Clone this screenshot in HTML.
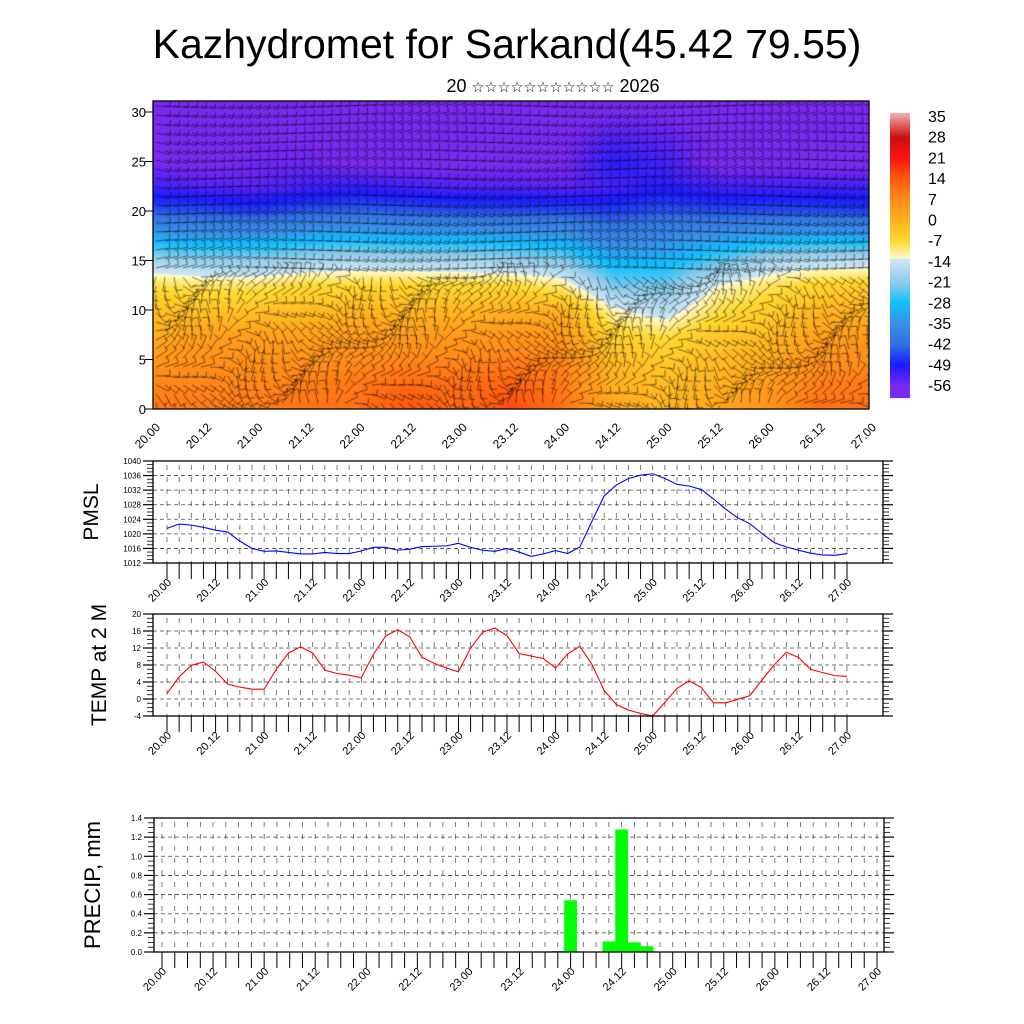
<!DOCTYPE html>
<html><head><meta charset="utf-8"><style>
html,body{margin:0;padding:0;background:#fff;width:1024px;height:1024px;overflow:hidden}
#heat{position:absolute;left:153px;top:101px}
svg{position:absolute;left:0;top:0}
text{font-family:"Liberation Sans",sans-serif;fill:#000}
</style></head><body>
<canvas id="heat" width="716" height="308"></canvas>
<svg id="s" width="1024" height="1024">
<text x="507" y="58" font-size="41" text-anchor="middle">Kazhydromet for Sarkand(45.42 79.55)</text>
<text x="553" y="92" font-size="18" text-anchor="middle">20 <tspan font-size="14.5">☆☆☆☆☆☆☆☆☆☆☆</tspan> 2026</text>
<text transform="translate(98,512) rotate(-90)" font-size="21" text-anchor="middle">PMSL</text>
<text transform="translate(106,665) rotate(-90)" font-size="21" text-anchor="middle">TEMP at 2 M</text>
<text transform="translate(100,885) rotate(-90)" font-size="22" text-anchor="middle">PRECIP, mm</text>
</svg>
<script>
// ---------- DATA ----------
const timeLabels=["20.00","20.12","21.00","21.12","22.00","22.12","23.00","23.12","24.00","24.12","25.00","25.12","26.00","26.12","27.00"];
const pmsl=[1021.5,1022.7,1022.4,1021.8,1021,1020.5,1018,1016,1015.2,1015.3,1014.9,1014.5,1014.5,1014.9,1014.6,1014.6,1015.3,1016.3,1016.3,1015.5,1015.8,1016.5,1016.6,1016.7,1017.4,1016.3,1015.5,1015.2,1016,1015,1013.8,1014.5,1015.4,1014.6,1016.4,1023.5,1030.4,1033.4,1035.2,1036.1,1036.5,1035.2,1033.6,1033.1,1032.2,1029.6,1026.8,1024.4,1022.8,1020.1,1017.6,1016.4,1015.5,1014.7,1014.2,1014.1,1014.6];
const temp2m=[1.3,5.2,7.9,8.7,6.5,3.5,2.8,2.3,2.3,7.0,10.8,12.3,10.8,6.8,6.0,5.6,5.0,10.5,14.8,16.3,14.6,9.8,8.4,7.3,6.4,12.0,15.7,16.7,14.9,10.7,10.1,9.5,7.3,10.6,12.4,8.1,2.0,-1.3,-2.6,-3.4,-4.0,-0.8,2.5,4.3,2.7,-0.9,-0.9,-0.1,0.8,4.5,8.0,11.0,9.8,7.0,6.2,5.5,5.3];
const precipIdx=[31,32,35,36,37,38];
const precipVal=[0.01,0.54,0.11,1.28,0.10,0.06];
const pmslTicks=[1012,1016,1020,1024,1028,1032,1036,1040];
const tempTicks=[-4,0,4,8,12,16,20];
const precipTicks=[0.0,0.2,0.4,0.6,0.8,1.0,1.2,1.4];
const heightTicks=[0,5,10,15,20,25,30];
const cbarLabels=[35,28,21,14,7,0,-7,-14,-21,-28,-35,-42,-49,-56];
// temperature cross-section: rows = heights 0..30 step 2.5, cols = every 12h
const gridZ=[0,2.5,5,7.5,10,12.5,15,17.5,20,22.5,25,27.5,30];
const gridT=[
[10,10,9,11,11,15,12,16,11,2,-1,2,6,11,11],
[8,8,8,9,10,12,11,13,10,0,-2,0,4,9,10],
[5,6,6,6,7,8,8,9,8,-2,-4,-2,1,6,7],
[1,3,3,3,4,4,4,5,5,-6,-8,-4,-2,3,4],
[-3,-3,-3,-2,-1,-1,-1,0,0,-12,-16,-8,-5,-1,0],
[-8,-9,-9,-7,-7,-6,-7,-7,-10,-22,-22,-13,-9,-6,-5],
[-18,-20,-20,-18,-17,-18,-18,-19,-21,-30,-30,-24,-18,-16,-16],
[-32,-33,-33,-31,-30,-31,-31,-32,-33,-38,-36,-34,-32,-31,-32],
[-44,-45,-46,-44,-43,-44,-45,-45,-45,-46,-44,-45,-45,-45,-46],
[-52,-53,-54,-52,-51,-52,-53,-53,-54,-52,-50,-52,-52,-52,-52],
[-56,-57,-55,-55,-57,-57,-57,-57,-56,-50,-52,-57,-57,-57,-57],
[-58,-57,-56,-56,-58,-58,-58,-57,-56,-53,-54,-56,-57,-58,-58],
[-58,-58,-58,-58,-58,-58,-58,-58,-58,-56,-56,-58,-58,-58,-58]];

// ---------- helpers ----------
const NS="http://www.w3.org/2000/svg";
const svg=document.getElementById('s');
function el(tag,attrs,parent){const e=document.createElementNS(NS,tag);for(const k in attrs)e.setAttribute(k,attrs[k]);(parent||svg).appendChild(e);return e;}
const cstops=[[36,[244,170,170]],[28,[200,16,16]],[21,[255,20,16]],[14,[255,90,16]],[7,[255,140,26]],[0,[255,176,32]],[-7,[255,216,48]],[-12.9,[255,250,204]],[-13,[208,232,244]],[-21,[140,203,232]],[-28,[16,192,255]],[-35,[58,142,232]],[-42,[48,112,224]],[-49,[26,26,255]],[-56,[122,42,240]],[-70,[122,42,240]]];
function cmap(v){if(v>=cstops[0][0])return cstops[0][1];for(let i=0;i<cstops.length-1;i++){const a=cstops[i],b=cstops[i+1];if(v<=a[0]&&v>=b[0]){const f=(a[0]-v)/(a[0]-b[0]);return a[1].map((c,j)=>Math.round(c+(b[1][j]-c)*f));}}return cstops[cstops.length-1][1];}

// ---------- heatmap ----------
(function(){
const cv=document.getElementById('heat'),ctx=cv.getContext('2d');const W=716,H=308;
const img=ctx.createImageData(W,H);const nc=gridT[0].length;
for(let y=0;y<H;y++){const z=(409-101-y)/9.9;const zr=Math.max(0,Math.min(gridZ.length-1.0001,z/2.5));const r0=Math.floor(zr),fr=zr-r0;
for(let x=0;x<W;x++){const cc=x/W*(nc-1);const c0=Math.min(nc-2,Math.floor(cc)),fc=cc-c0;
const v=(gridT[r0][c0]*(1-fc)+gridT[r0][c0+1]*fc)*(1-fr)+(gridT[r0+1][c0]*(1-fc)+gridT[r0+1][c0+1]*fc)*fr;
const col=cmap(Math.round(v*1.5)/1.5);const i=(y*W+x)*4;img.data[i]=col[0];img.data[i+1]=col[1];img.data[i+2]=col[2];img.data[i+3]=255;}}
ctx.putImageData(img,0,0);
// wind barbs (decorative texture)
ctx.strokeStyle='rgba(0,0,0,0.7)';ctx.lineWidth=0.7;
for(let gy=5;gy<H;gy+=9){for(let gx=3;gx<W;gx+=9){const z=(308-gy)/9.9;
let a;if(z>14)a=Math.PI*(0.08*Math.sin(gx/60+gy/40));else a=Math.PI*(0.4*Math.sin(gx/37+gy/23)+0.2*Math.cos(gx/17));
const L=14,dx=Math.cos(a)*L,dy=Math.sin(a)*L;ctx.beginPath();ctx.moveTo(gx,gy);ctx.lineTo(gx+dx,gy+dy);
ctx.lineTo(gx+dx+Math.sin(a)*6,gy+dy-Math.cos(a)*6);ctx.stroke();}}
})();

// top panel frame and axes
el('rect',{x:153,y:101,width:716,height:308,fill:'none',stroke:'#000','stroke-width':1.3,});
const hy=v=>409-v*9.9;
heightTicks.forEach(v=>{const t=el('text',{x:146,y:hy(v)+5,'font-size':13,'text-anchor':'end'});t.textContent=v;

const l=el('line',{x1:153,x2:145,y1:hy(v),y2:hy(v),stroke:'#000'});});
timeLabels.forEach((s,i)=>{const x=153+i*716/14;const t=el('text',{transform:`translate(${x+8},${428}) rotate(-45)`,'font-size':12,'text-anchor':'end'});t.textContent=s;
});
// colorbar
(function(){const g=el('g',{});
const yv=v=>116+(35-v)/7*20.7;
for(let y=113;y<398;y+=1.5){const v=35-(y-116)/20.7*7;const c=cmap(v);el('rect',{x:890,y:y,width:20,height:1.6,fill:`rgb(${c})`},g);}
cbarLabels.forEach(v=>{const t=el('text',{x:928,y:yv(v)+6,'font-size':16});t.textContent=v;});})();

// ---------- line panels ----------
function panel(o){
const {x0,x1,yT,yB,vmin,vmax,ticks,tx0,tx1,name}=o;
const g=el('g',{});
const Y=v=>yB-(v-vmin)/(vmax-vmin)*(yB-yT);const X=i=>tx0+i*(tx1-tx0)/56;
ticks.forEach((v,k)=>{if(k>0&&k<ticks.length-1)el('line',{x1:x0,x2:x1,y1:Y(v),y2:Y(v),stroke:'#444','stroke-width':0.8,'stroke-dasharray':'4,3'},g);});
for(let i=0;i<=56;i++){el('line',{x1:X(i),x2:X(i),y1:yT+4,y2:yB,stroke:'#444','stroke-width':0.7,'stroke-dasharray':'5,7'},g);}
const step=(ticks[1]-ticks[0])/4;
for(let v=vmin;v<=vmax+1e-6;v+=step){const maj=Math.abs((v-vmin)/(ticks[1]-ticks[0])-Math.round((v-vmin)/(ticks[1]-ticks[0])))<1e-6;
const L=maj?10:6;el('line',{x1:x0-L,x2:x0,y1:Y(v),y2:Y(v),stroke:'#000','stroke-width':maj?1.2:0.8},g);el('line',{x1:x1,x2:x1+L,y1:Y(v),y2:Y(v),stroke:'#000','stroke-width':maj?1.2:0.8},g);}
ticks.forEach(v=>{const t=el('text',{x:x0-12,y:Y(v)+3,'font-size':8,'text-anchor':'end'},g);t.textContent=o.fmt?o.fmt(v):v;
});
for(let i=0;i<=56;i++){el('line',{x1:X(i),x2:X(i),y1:yB,y2:yB+16,stroke:'#000','stroke-width':1},g);}
timeLabels.forEach((s,k)=>{const x=X(k*4);const t=el('text',{transform:`translate(${x+5},${yB+20}) rotate(-45)`,'font-size':11,'text-anchor':'end'},g);t.textContent=s;
});
if(o.series){const p=el('polyline',{points:o.series.map((v,i)=>X(i)+','+Y(v)).join(' '),fill:'none',stroke:o.color,'stroke-width':1.1},g);
}
if(o.bars){const w=(tx1-tx0)/56;o.bars.forEach((i,k)=>{const r=el('rect',{x:X(i)-w/2,y:Y(o.barVals[k]),width:w,height:Y(0)-Y(o.barVals[k]),fill:'#00ff00'},g);
});}
el('rect',{x:x0,y:yT,width:x1-x0,height:yB-yT,fill:'none',stroke:'#000','stroke-width':1.3},g);
}
panel({name:'pmsl',x0:153,x1:883,yT:461,yB:563,vmin:1012,vmax:1040,ticks:pmslTicks,tx0:167,tx1:847,series:pmsl,color:'#0000ff'});
panel({name:'temp',x0:153,x1:883,yT:614,yB:716,vmin:-4,vmax:20,ticks:tempTicks,tx0:167,tx1:847,series:temp2m,color:'#ff0000'});
panel({name:'precip',x0:154,x1:884,yT:818,yB:952,vmin:0,vmax:1.4,ticks:precipTicks,tx0:162,tx1:877,bars:precipIdx,barVals:precipVal,fmt:v=>v.toFixed(1)});
</script>
</body></html>
